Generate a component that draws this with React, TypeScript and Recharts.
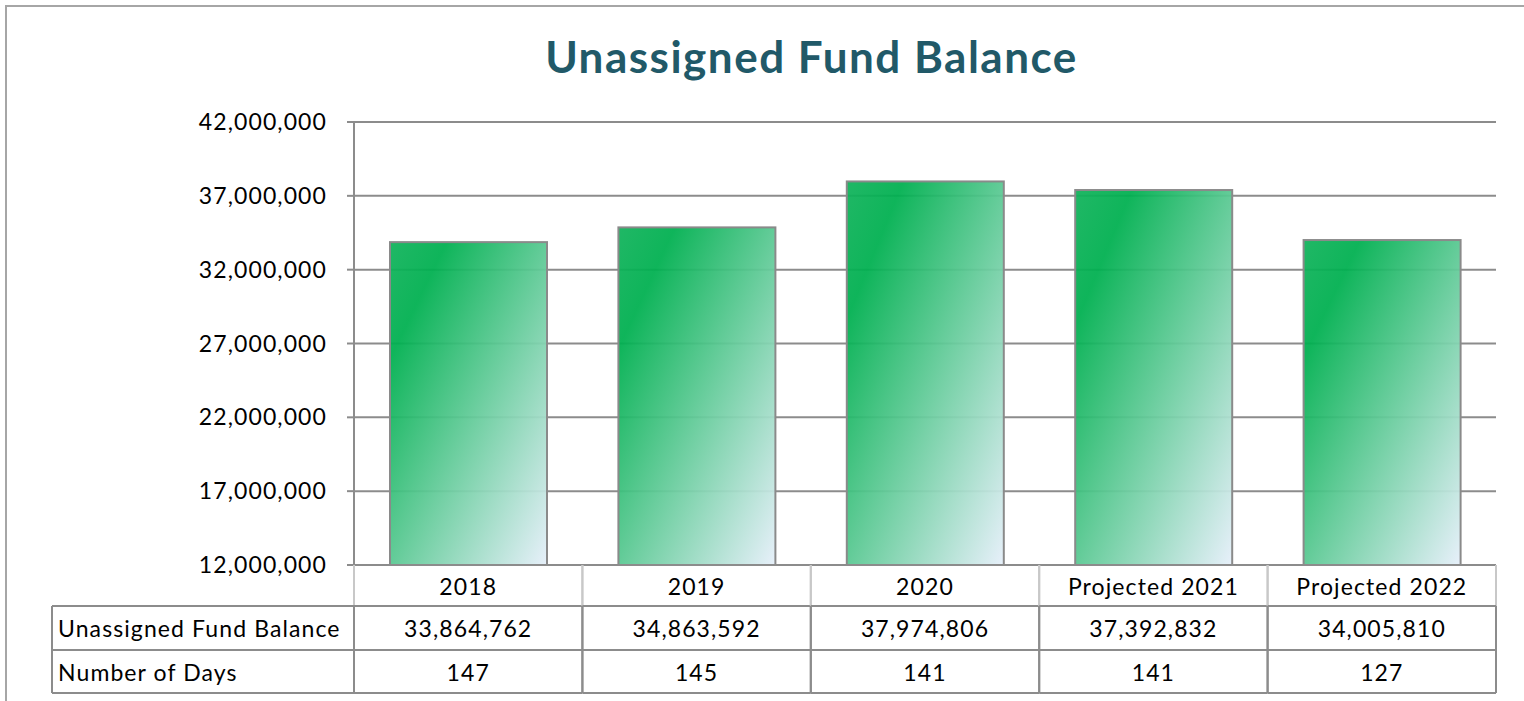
import { type FC } from "react";
import { BarChart, Bar, XAxis, YAxis, CartesianGrid } from "recharts";

const years = ["2018", "2019", "2020", "Projected 2021", "Projected 2022"];
const fundBalance = [33864762, 34863592, 37974806, 37392832, 34005810];
const numberOfDays = [147, 145, 141, 141, 127];
const yTicks = [12000000, 17000000, 22000000, 27000000, 32000000, 37000000, 42000000];
const rowLabels = ["Unassigned Fund Balance", "Number of Days"];

const data = years.map((year, i) => ({
  year,
  balance: fundBalance[i],
  days: numberOfDays[i],
}));

const W = 1524;
const H = 701;
const LEFT = 354;
const RIGHT = 28;
const TOP = 122;
const TABLE_H = 136;
const CELL = (W - LEFT - RIGHT) / years.length;
const ROW_H = [41, 44, 43];
const LABEL_X = 52;
const GRID = "#8c8c8c";
const FONT = "Lato, 'Open Sans', sans-serif";

const fmt = (v: number) => v.toLocaleString("en-US");

const BarShape: FC<any> = ({ x, y, width, height }) => (
  <g>
    <rect
      x={x}
      y={y}
      width={width}
      height={height}
      fill="url(#barGrad)"
      fillOpacity={0.94}
      stroke="#8a8a8a"
      strokeWidth={2}
    />
    <line x1={x} x2={x + width} y1={y + height} y2={y + height} stroke="#c9504d" strokeWidth={2} />
  </g>
);

const txt = { fontFamily: FONT, fontSize: 23, fill: "#000", letterSpacing: 1.1 };

const TableTick: FC<any> = ({ x, y, payload, index }) => {
  const half = CELL / 2;
  const r1 = y + ROW_H[0];
  const r2 = r1 + ROW_H[1];
  const r3 = r2 + ROW_H[2];
  return (
    <g>
      {/* header verticals */}
      <line x1={x - half} x2={x - half} y1={y} y2={r1} stroke="#c8c8c8" strokeWidth={2} />
      <line x1={x + half} x2={x + half} y1={y} y2={r1} stroke="#c8c8c8" strokeWidth={2} />
      {/* data verticals */}
      <line x1={x - half} x2={x - half} y1={r1} y2={r3} stroke={GRID} strokeWidth={2} />
      <line x1={x + half} x2={x + half} y1={r1} y2={r3} stroke={GRID} strokeWidth={2} />
      <line x1={x - half} x2={x + half} y1={r1} y2={r1} stroke={GRID} strokeWidth={2} />
      <line x1={x - half} x2={x + half} y1={r2} y2={r2} stroke={GRID} strokeWidth={2} />
      <line x1={x - half} x2={x + half} y1={r3} y2={r3} stroke={GRID} strokeWidth={2} />
      <text x={x} y={y + ROW_H[0] / 2} textAnchor="middle" dominantBaseline="central" {...txt}>
        {payload.value}
      </text>
      <text x={x} y={r1 + ROW_H[1] / 2} textAnchor="middle" dominantBaseline="central" {...txt}>
        {fmt(fundBalance[index])}
      </text>
      <text x={x} y={r2 + ROW_H[2] / 2} textAnchor="middle" dominantBaseline="central" {...txt}>
        {numberOfDays[index]}
      </text>
      {index === 0 && (
        <g>
          <line x1={LABEL_X} x2={x - half} y1={r1} y2={r1} stroke={GRID} strokeWidth={2} />
          <line x1={LABEL_X} x2={x - half} y1={r2} y2={r2} stroke={GRID} strokeWidth={2} />
          <line x1={LABEL_X} x2={x - half} y1={r3} y2={r3} stroke={GRID} strokeWidth={2} />
          <line x1={LABEL_X} x2={LABEL_X} y1={r1} y2={r3} stroke={GRID} strokeWidth={2} />
          <text x={LABEL_X + 6} y={r1 + ROW_H[1] / 2} dominantBaseline="central" {...txt}>
            {rowLabels[0]}
          </text>
          <text x={LABEL_X + 6} y={r2 + ROW_H[2] / 2} dominantBaseline="central" {...txt}>
            {rowLabels[1]}
          </text>
        </g>
      )}
    </g>
  );
};

export default function App() {
  return (
    <div
      style={{
        position: "absolute",
        left: 0,
        top: 0,
        width: W,
        height: H,
        overflow: "hidden",
        background: "#fff",
      }}
    >
      <div
        style={{
          position: "absolute",
          left: 5,
          top: 5,
          width: 1700,
          height: 900,
          border: "2px solid #a6a6a6",
        }}
      />
      <div
        style={{
          position: "absolute",
          left: 0,
          width: 1623,
          top: 30,
          textAlign: "center",
          fontFamily: FONT,
          fontWeight: 700,
          fontSize: 44,
          letterSpacing: 1.5,
          color: "#215968",
        }}
      >
        Unassigned Fund Balance
      </div>
      <div style={{ position: "absolute", left: 0, top: 0 }}>
        <BarChart
          width={W}
          height={H}
          data={data}
          margin={{ top: TOP, right: RIGHT, bottom: 0, left: 0 }}
        >
          <defs>
            <linearGradient id="barGrad" x1="0" y1="0" x2="1" y2="1">
              <stop offset="0" stopColor="#12b35c" />
              <stop offset="0.18" stopColor="#00b050" />
              <stop offset="1" stopColor="#e6effa" />
            </linearGradient>
          </defs>
          <CartesianGrid vertical={false} stroke={GRID} strokeWidth={2} />
          <YAxis
            width={LEFT}
            domain={[12000000, 42000000]}
            ticks={yTicks}
            tickFormatter={fmt}
            axisLine={{ stroke: GRID, strokeWidth: 2 }}
            tickLine={{ stroke: GRID, strokeWidth: 2 }}
            tickSize={7}
            tickMargin={20}
            tick={txt}
          />
          <XAxis
            dataKey="year"
            height={TABLE_H}
            axisLine={{ stroke: GRID, strokeWidth: 2 }}
            tickLine={false}
            tickSize={0}
            tickMargin={0}
            interval={0}
            tick={<TableTick />}
          />
          <Bar dataKey="balance" barSize={157} shape={<BarShape />} isAnimationActive={false} />
        </BarChart>
      </div>
    </div>
  );
}
